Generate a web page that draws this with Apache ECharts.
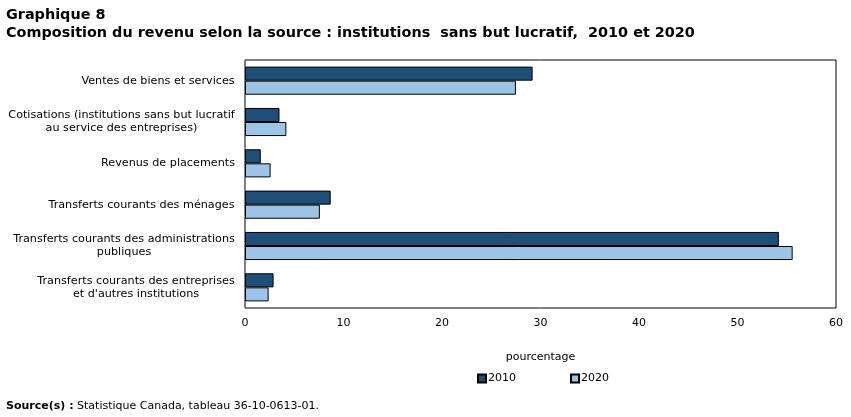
<!DOCTYPE html>
<html>
<head>
<meta charset="utf-8">
<script src="https://cdn.jsdelivr.net/npm/echarts@6/dist/echarts.min.js"></script>
<style>
  html, body { margin: 0; padding: 0; background: #fff; }
  #app { width: 851px; height: 417px; }
</style>
</head>
<body>
<div id="app"></div>
<script>
const categories = [
  'Ventes de biens et services',
  'Cotisations (institutions sans but lucratif\nau service des entreprises)',
  'Revenus de placements',
  'Transferts courants des ménages',
  'Transferts courants des administrations\npubliques',
  'Transferts courants des entreprises\net d\'autres institutions',
];
const values2010 = [29.2, 3.5, 1.6, 8.7, 54.2, 2.9];
const values2020 = [27.5, 4.2, 2.6, 7.6, 55.6, 2.4];
const xTicks = { min: 0, max: 60, interval: 10 };

const font = 'Verdana, "DejaVu Sans", sans-serif';
const labelSize = 11.2;

// multi-line category labels: lines centred on each other, block right-aligned
const ctx = document.createElement('canvas').getContext('2d');
ctx.font = labelSize + 'px ' + font;
const labelRich = {};
categories.forEach((cat, i) => {
  const w = Math.max(...cat.split('\n').map((l) => ctx.measureText(l).width));
  labelRich['c' + i] = { width: Math.ceil(w), align: 'center', fontFamily: font, fontSize: labelSize, color: '#000', lineHeight: 13 };
});

const eChart = echarts.init(document.getElementById('app'));

const option = {
  backgroundColor: '#fff',
  animation: false,
  title: [
    {
      text: 'Graphique 8\nComposition du revenu selon la source : institutions  sans but lucratif,  2010 et 2020',
      left: 1,
      top: 1,
      textStyle: {
        fontFamily: font,
        fontSize: 14.4,
        fontWeight: 'bold',
        color: '#000',
        lineHeight: 18,
      },
    },
    {
      text: '{b|Source(s) :} Statistique Canada, tableau 36-10-0613-01.',
      left: 1,
      top: 396,
      textStyle: {
        fontFamily: font,
        fontSize: 11,
        fontWeight: 'normal',
        color: '#000',
        rich: {
          b: { fontFamily: font, fontSize: 11, fontWeight: 'bold', color: '#000' },
        },
      },
    },
  ],
  legend: {
    top: 368,
    left: 472,
    icon: 'rect',
    itemWidth: 8,
    itemHeight: 8,
    itemGap: 54,
    textStyle: { fontFamily: font, fontSize: 11, color: '#000', padding: [0, 0, 0, -3] },
    data: ['2010', '2020'],
  },
  grid: {
    left: 245,
    right: 15,
    top: 60,
    bottom: 109,
    show: true,
    borderColor: '#000',
    borderWidth: 1,
  },
  xAxis: {
    type: 'value',
    min: xTicks.min,
    max: xTicks.max,
    interval: xTicks.interval,
    name: 'pourcentage',
    nameLocation: 'middle',
    nameGap: 44,
    nameTextStyle: { fontFamily: font, fontSize: 11, color: '#000' },
    axisLine: { show: false },
    axisTick: { show: false },
    splitLine: { show: false },
    axisLabel: { fontFamily: font, fontSize: 11, color: '#000', margin: 10 },
  },
  yAxis: {
    type: 'category',
    data: categories,
    inverse: true,
    axisLine: { show: false },
    axisTick: { show: false },
    axisLabel: {
      fontFamily: font,
      fontSize: labelSize,
      color: '#000',
      margin: 10,
      lineHeight: 13,
      align: 'right',
      rich: labelRich,
      formatter: function (value, index) {
        const key = 'c' + categories.indexOf(value);
        return value.split('\n').map((l) => '{' + key + '|' + l + '}').join('\n');
      },
    },
  },
  series: [
    {
      name: '2010',
      type: 'bar',
      data: values2010,
      barCategoryGap: '32%',
      barGap: '0%',
      itemStyle: { color: '#1f4e79', borderColor: '#000', borderWidth: 1 },
    },
    {
      name: '2020',
      type: 'bar',
      data: values2020,
      barCategoryGap: '32%',
      barGap: '0%',
      itemStyle: { color: '#9dc3e6', borderColor: '#000', borderWidth: 1 },
    },
  ],
};
eChart.setOption(option);
</script>
</body>
</html>
